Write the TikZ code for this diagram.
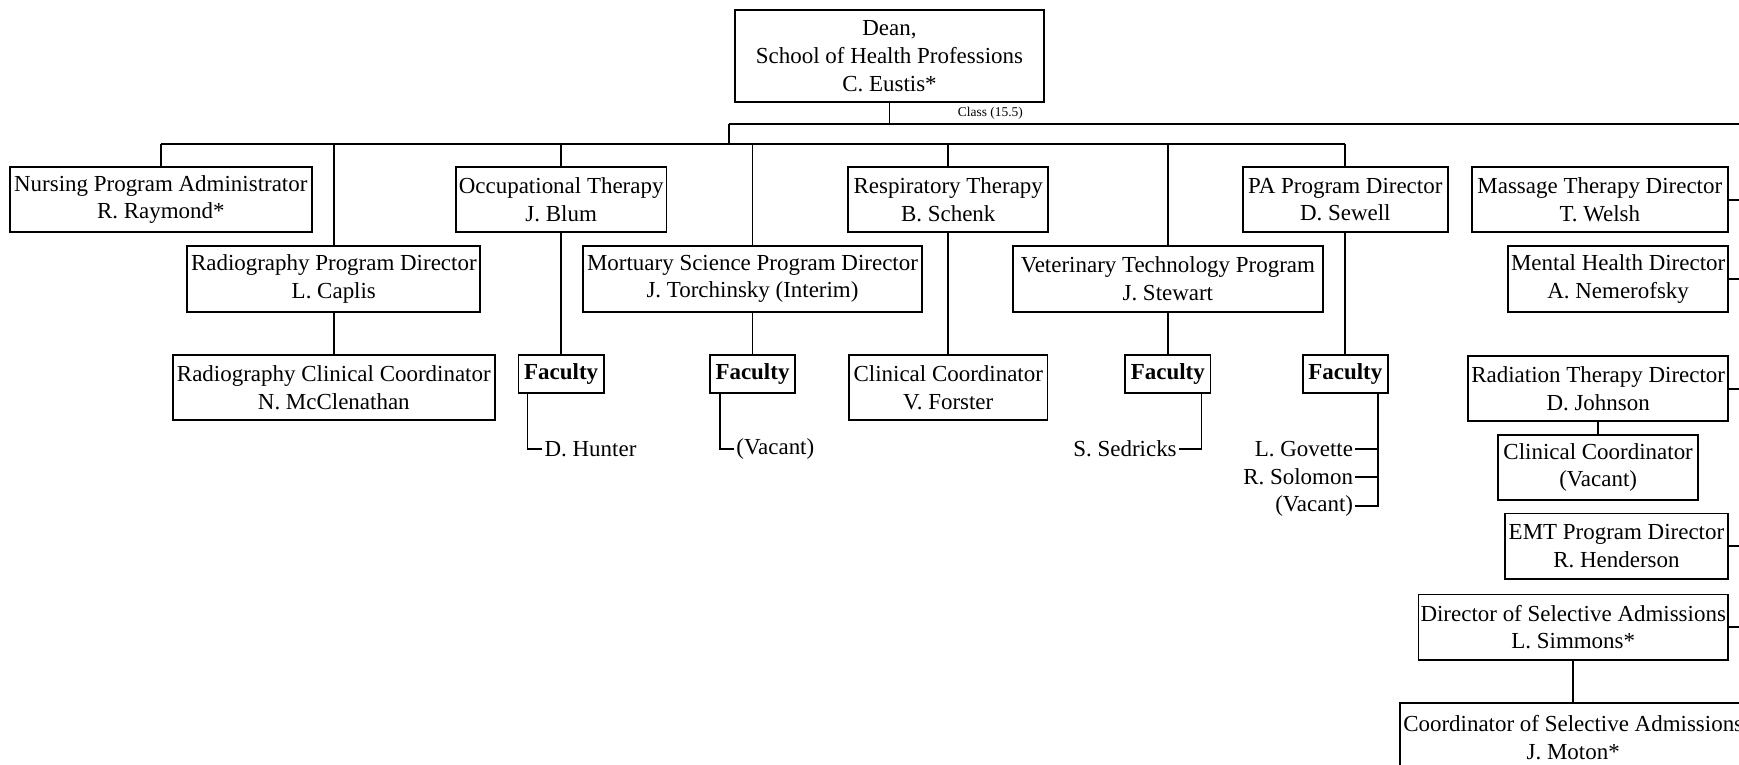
\documentclass[tikz,border=0pt]{standalone}
\usepackage{fontspec}
\setmainfont{Liberation Serif}
\begin{document}
\begin{tikzpicture}[x=0.5pt,y=-0.5pt,line width=0.85pt,
  box/.style={draw,align=center,inner sep=0pt,minimum height=29.5pt,font=\fontsize{10.35}{12.5}\selectfont},
  fac/.style={draw,inner sep=0pt,minimum width=38.5pt,minimum height=17pt,font=\fontsize{10.35}{12.5}\selectfont\bfseries},
  person/.style={inner sep=0.6pt,font=\fontsize{10.35}{12.5}\selectfont},
  small/.style={inner sep=0pt,font=\fontsize{6.05}{7}\selectfont}]
\useasboundingbox (0,0) rectangle (1568,689);
\clip (0,0) rectangle (1568,689);
% boxes
\node[box,minimum width=139pt,minimum height=41.5pt] (dean) at (802,50.5) {Dean,\\School of Health Professions\\C. Eustis*};
\node[small] (cls) at (893,102) {Class (15.5)};
\node[box,minimum width=136pt] (nurs) at (145,180) {Nursing Program Administrator\\R. Raymond*};
\node[box,minimum width=95pt] (ot) at (506,180) {Occupational Therapy\\J. Blum};
\node[box,minimum width=90pt] (rt) at (855,180) {Respiratory Therapy\\B. Schenk};
\node[box,minimum width=92.5pt] (pa) at (1213,180) {PA Program Director\\D. Sewell};
\node[box,minimum width=115.5pt] (mass) at (1442.5,180) {Massage Therapy Director\\T. Welsh};
\node[box,minimum width=132pt] (rad) at (301,251.5) {Radiography Program Director\\L. Caplis};
\node[box,minimum width=152.5pt] (mort) at (678.5,251.5) {Mortuary Science Program Director\\J. Torchinsky (Interim)};
\node[box,minimum width=140pt] (vet) at (1053,251.5) {Veterinary Technology Program\\J. Stewart};
\node[box,minimum width=99pt] (ment) at (1459,251.5) {Mental Health Director\\A. Nemerofsky};
\node[box,minimum width=145pt] (rcc) at (301,349.5) {Radiography Clinical Coordinator\\N. McClenathan};
\node[fac] (otf) at (506,337) {Faculty};
\node[fac] (mortf) at (678.5,337) {Faculty};
\node[box,minimum width=89.5pt] (rtcc) at (855,349.5) {Clinical Coordinator\\V. Forster};
\node[fac] (vetf) at (1053,337) {Faculty};
\node[fac] (paf) at (1213,337) {Faculty};
\node[box,minimum width=117pt] (radt) at (1441,350.5) {Radiation Therapy Director\\D. Johnson};
\node[box,minimum width=90pt] (radtcc) at (1441,421.5) {Clinical Coordinator\\(Vacant)};
\node[box,minimum width=100.5pt] (emt) at (1457.5,492.5) {EMT Program Director\\R. Henderson};
\node[box,minimum width=139.5pt] (dsa) at (1418.5,565.5) {Director of Selective Admissions\\L. Simmons*};
\node[box,minimum width=156pt,minimum height=31pt] (csa) at (1418.5,665) {Coordinator of Selective Admissions\\J. Moton*};
% faculty members
\node[person,anchor=west] (hunter) at (489,405) {D. Hunter};
\node[person,anchor=west] (mvac) at (662,405) {(Vacant)};
\node[person,anchor=east] (sed) at (1063,405) {S. Sedricks};
\node[person,anchor=east] (gov) at (1222,405) {L. Govette};
\node[person,anchor=east] (sol) at (1222,430) {R. Solomon};
\node[person,anchor=east] (pvac) at (1222,456) {(Vacant)};
% connector coordinates
\coordinate (topL) at (657,112);
\coordinate (busJ) at (657,130);
\coordinate (redge) at (1580,112);
% top structure
\draw (dean.south) -- (dean.south |- topL);
\draw (topL) -- (redge);
\draw (topL) -- (busJ);
\draw (nurs.north |- busJ) -- (pa.north |- busJ);
\foreach \n in {nurs,ot,rt,pa,rad,mort,vet}
  \draw (\n.north) -- (\n.north |- busJ);
% children
\draw (rad.south) -- (rcc.north);
\draw (ot.south) -- (otf.north);
\draw (mort.south) -- (mortf.north);
\draw (rt.south) -- (rtcc.north);
\draw (vet.south) -- (vetf.north);
\draw (pa.south) -- (paf.north);
\draw (radt.south) -- (radtcc.north);
\draw (dsa.south) -- (csa.north);
% right-hand stubs
\foreach \n in {mass,ment,radt,emt,dsa}
  \draw (\n.east) -- (\n.east -| redge);
% faculty member lines
\draw (otf.south west) ++(9,0) |- (hunter.west);
\draw (mortf.south west) ++(10,0) |- (mvac.west);
\draw (vetf.south east) ++(-9,0) |- (sed.east);
\draw (paf.south east) ++(-10,0) coordinate (pl) |- (pvac.east);
\draw (gov.east) -- (gov.east -| pl);
\draw (sol.east) -- (sol.east -| pl);
\end{tikzpicture}
\end{document}
